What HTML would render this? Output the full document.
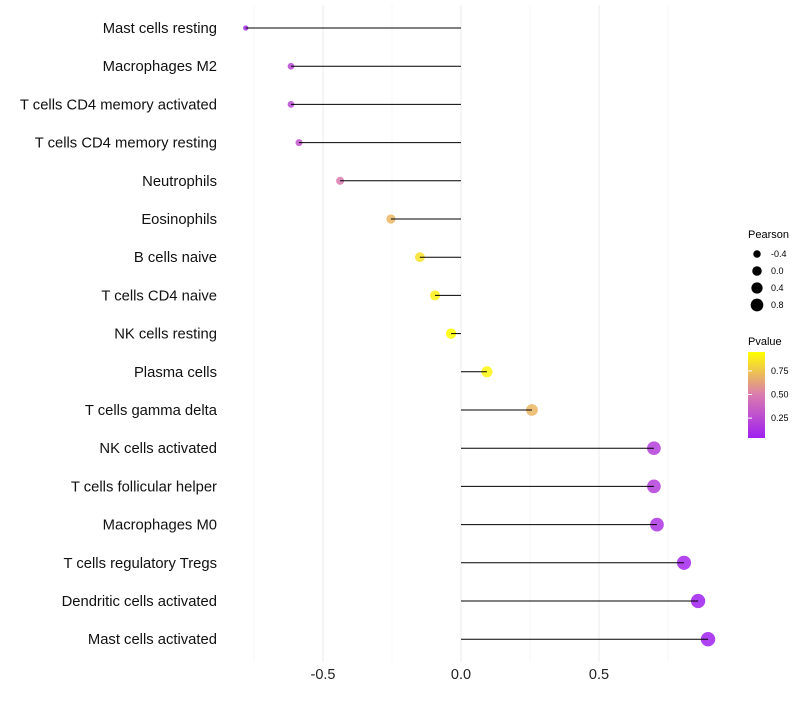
<!DOCTYPE html>
<html><head><meta charset="utf-8"><style>
body{margin:0;background:#fff;font-family:"Liberation Sans",sans-serif}
</style></head><body>
<svg id="c" width="800" height="700" xmlns="http://www.w3.org/2000/svg">
<defs><linearGradient id="pg" x1="0" y1="1" x2="0" y2="0">
<stop offset="0" stop-color="#A020F0"/><stop offset="0.5" stop-color="#D97BB0"/><stop offset="1" stop-color="#FFFF00"/></linearGradient></defs>
<g id="grid"></g><g id="dots"></g><g id="marks"></g><g id="labels"></g>
<g font-size="10">
<text x="748" y="238" font-size="11">Pearson</text>
<g id="sizeLeg"></g>
<text x="748" y="345" font-size="11">Pvalue</text>
<rect x="748" y="352" width="17" height="86" fill="url(#pg)"/>
<g id="colLeg"></g>
</g>
</svg>
<script>
const categories=["Mast cells resting","Macrophages M2","T cells CD4 memory activated","T cells CD4 memory resting","Neutrophils","Eosinophils","B cells naive","T cells CD4 naive","NK cells resting","Plasma cells","T cells gamma delta","NK cells activated","T cells follicular helper","Macrophages M0","T cells regulatory  Tregs","Dendritic cells activated","Mast cells activated"];
const pearson=[-0.78,-0.616,-0.616,-0.587,-0.438,-0.254,-0.149,-0.094,-0.036,0.094,0.257,0.699,0.699,0.71,0.808,0.859,0.895];
const pvalue=[0.1,0.25,0.25,0.3,0.5,0.7,0.85,0.9,0.95,0.92,0.7,0.2,0.2,0.15,0.08,0.05,0.03];
const xTicks=[-0.5,0,0.5];
const xTickLabels=["-0.5","0.0","0.5"];
const sizeLegVals=[-0.4,0,0.4,0.8];
const colLegVals=[0.25,0.5,0.75];
const NS="http://www.w3.org/2000/svg";
const X=v=>461+v*276;
const Y=i=>28+i*38.2;
const R=v=>Math.sqrt(Math.max(2.25,28+27*v));
function lerp(a,b,t){return a.map((x,k)=>Math.round(x+(b[k]-x)*t));}
function col(p){const t=Math.max(0,Math.min(1,(p-0.05)/0.9));const A=[160,32,240],M=[217,123,176],B=[255,255,0];
const c=t<0.5?lerp(A,M,t/0.5):lerp(M,B,(t-0.5)/0.5);return `rgb(${c})`;}
function mk(tag,attrs,parent){const e=document.createElementNS(NS,tag);for(const k in attrs)e.setAttribute(k,attrs[k]);document.getElementById(parent).appendChild(e);return e;}
[-0.75,-0.25,0.25,0.75].forEach(v=>{const l=mk('line',{x1:X(v),x2:X(v),y1:5,y2:662,stroke:'#f2f2f2','stroke-width':0.6},'grid');

});
xTicks.forEach((v,i)=>{const l=mk('line',{x1:X(v),x2:X(v),y1:5,y2:662,stroke:'#ebebeb','stroke-width':1},'grid');


const t=mk('text',{x:X(v),y:679,'text-anchor':'middle','font-size':14.5,fill:'#222'},'labels');t.textContent=xTickLabels[i];

});
categories.forEach((c,i)=>{const y=Y(i);
const t=mk('text',{x:217,y:y+5,'text-anchor':'end','font-size':14.8,fill:'#111'},'labels');t.textContent=c;


const d=mk('circle',{cx:X(pearson[i]),cy:y,r:R(pearson[i]),fill:col(pvalue[i]),'fill-opacity':0.85},'dots');


const l=mk('line',{x1:X(0),x2:X(pearson[i]),y1:y,y2:y,stroke:'#000','stroke-width':1},'marks');

});
sizeLegVals.forEach((v,i)=>{const y=254+i*17;
const d=mk('circle',{cx:757,cy:y,r:R(v)*0.9,fill:'#000'},'sizeLeg');


const t=mk('text',{x:771,y:y+3,'font-size':9},'sizeLeg');t.textContent=v.toFixed(1);

});
colLegVals.forEach(v=>{const y=437-(v-0.05)/0.9*85;
const t=mk('text',{x:771,y:y+3,'font-size':9},'colLeg');t.textContent=v.toFixed(2);


const l=mk('line',{x1:748,x2:752,y1:y,y2:y,stroke:'#fff'},'colLeg');

});
</script>
</body></html>
